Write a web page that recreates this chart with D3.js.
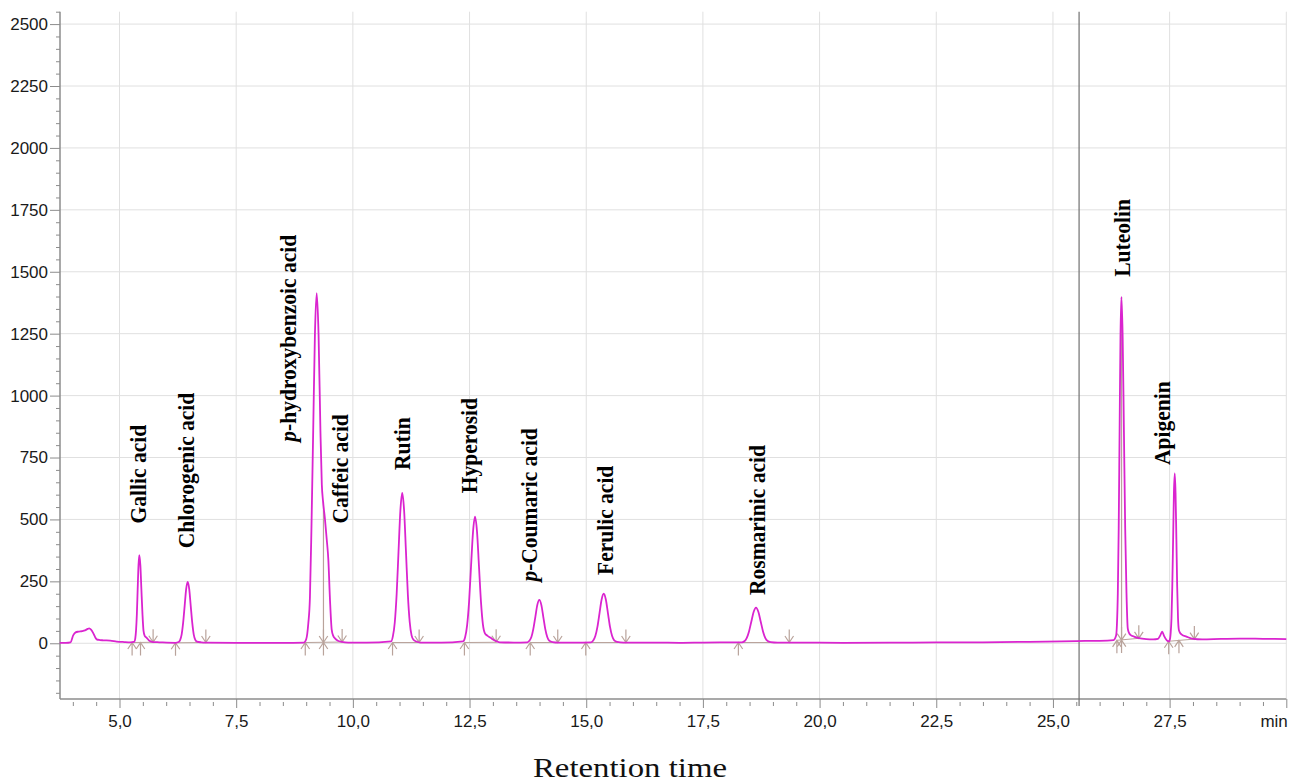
<!DOCTYPE html>
<html>
<head>
<meta charset="utf-8">
<script src="https://cdn.jsdelivr.net/npm/d3@7/dist/d3.min.js"></script>
<style>
  html, body { margin: 0; padding: 0; background: #ffffff; }
  svg { display: block; }
</style>
</head>
<body>
<svg id="chart" width="1290" height="784"></svg>
<script>
// ---------------- data ----------------
const times = [
  3.72, 3.85, 3.95, 4.01, 4.06, 4.12, 4.20, 4.26, 4.32, 4.35, 4.39, 4.44, 4.48, 4.51, 4.58, 4.65, 4.80, 4.94, 5.10, 5.23,
  5.32, 5.337, 5.354, 5.372, 5.389, 5.407, 5.424, 5.447, 5.469, 5.492, 5.514, 5.54, 5.583, 5.64, 5.72, 5.85,
  6.20, 6.266, 6.298, 6.331, 6.363, 6.396, 6.428, 6.461, 6.494, 6.526, 6.559, 6.591, 6.624, 6.66, 6.75, 6.85,
  7.50, 8.50, 8.95, 9.00, 9.045, 9.08, 9.112, 9.15, 9.187, 9.225, 9.265, 9.305, 9.335, 9.36, 9.40, 9.44, 9.475, 9.51,
  9.547, 9.58, 9.617, 9.68, 9.76, 9.90,
  10.30, 10.82, 10.858, 10.898, 10.938, 10.978, 11.018, 11.058, 11.098, 11.138, 11.178, 11.218, 11.258, 11.30, 11.36, 11.45,
  11.90, 12.362, 12.405, 12.447, 12.49, 12.532, 12.575, 12.617, 12.66, 12.702, 12.745, 12.787, 12.83, 12.88, 12.95, 13.05, 13.15,
  13.45, 13.74, 13.782, 13.825, 13.867, 13.91, 13.952, 13.995, 14.038, 14.08, 14.122, 14.165, 14.21, 14.28, 14.40,
  14.75, 15.105, 15.15, 15.195, 15.24, 15.285, 15.33, 15.375, 15.42, 15.465, 15.51, 15.555, 15.60, 15.66, 15.80,
  16.50, 17.00, 17.50, 18.338, 18.388, 18.438, 18.488, 18.538, 18.588, 18.638, 18.688, 18.738, 18.788, 18.838, 18.888, 18.95, 19.10,
  19.50, 20.50, 22.00, 23.50, 24.50, 25.50, 26.00, 26.30,
  26.352, 26.371, 26.39, 26.409, 26.428, 26.447, 26.466, 26.494, 26.521, 26.548, 26.576, 26.603, 26.63, 26.66, 26.75, 26.84,
  27.00, 27.15, 27.25, 27.30, 27.34, 27.38, 27.44, 27.48,
  27.50, 27.522, 27.54, 27.557, 27.575, 27.592, 27.61, 27.627, 27.645, 27.662, 27.68, 27.697, 27.715, 27.76, 27.86,
  28.00, 28.20, 28.60, 29.00, 29.50, 30.00
];
const signal = [
  2, 2, 4, 33, 44, 47, 49, 52, 58, 60, 55, 40, 24, 16, 13, 12, 11, 7, 5, 4,
  7, 19, 51, 118, 217, 315, 356, 315, 217, 118, 51, 30, 22, 10, 5, 4,
  2, 5, 13, 35, 82, 151, 219, 248, 219, 151, 82, 35, 14, 7, 4, 3,
  2, 2, 3, 16, 80, 185, 459, 858, 1247, 1414, 1247, 858, 640, 575, 505, 420, 336, 175,
  54, 30, 20, 10, 6, 3,
  3, 8, 29, 84, 198, 369, 536, 607, 536, 369, 198, 86, 32, 14, 7, 3,
  3, 8, 24, 71, 167, 311, 451, 511, 451, 311, 167, 75, 40, 31, 22, 10, 4,
  3, 4, 10, 25, 58, 107, 155, 175, 155, 107, 58, 25, 10, 5, 3,
  3, 4, 11, 29, 66, 122, 177, 200, 177, 122, 66, 29, 12, 6, 3,
  3, 2, 3, 4, 8, 21, 48, 88, 127, 144, 127, 88, 48, 21, 9, 5, 3,
  3, 2, 3, 4, 6, 9, 10, 13,
  30, 76, 202, 464, 854, 1235, 1398, 1235, 854, 464, 202, 60, 42, 34, 26, 21,
  17, 16, 18, 32, 47, 30, 12, 8,
  12, 40, 101, 229, 420, 607, 686, 607, 420, 229, 101, 55, 45, 35, 27,
  18, 16, 18, 19, 18, 17
];

const peakNames = ["Gallic acid", "Chlorogenic acid", "p-hydroxybenzoic acid", "Caffeic acid", "Rutin",
  "Hyperosid", "p-Coumaric acid", "Ferulic acid", "Rosmarinic acid", "Luteolin", "Apigenin"];
const peakTimes = [5.42, 6.46, 9.23, 9.37, 11.06, 12.62, 14.00, 15.38, 18.64, 26.47, 27.61];

// integration marks (start / end of each integrated peak)
const markerTimes  = [5.27, 5.45, 5.72, 6.20, 6.85, 8.98, 9.37, 9.77, 10.85, 11.42, 12.39, 13.07, 13.80, 14.39,
  14.99, 15.85, 18.26, 19.35, 26.37, 26.47, 26.84, 27.48, 27.70, 28.03];
const markerKinds  = ["up", "up", "down", "up", "down", "up", "both", "down", "up", "down", "up", "down", "up", "down",
  "up", "down", "up", "down", "up", "both", "down", "up", "up", "down"];
const markerLevels = [3, 3, 4, 2, 3, 3, 3, 5, 3, 3, 3, 4, 3, 3, 3, 3, 3, 3, 12, 13, 20, 8, 12, 17];
const intStart = [5.27, 6.20, 8.98, 10.85, 12.39, 13.80, 14.99, 18.26, 26.37, 27.48];
const intEnd   = [5.72, 6.85, 9.77, 11.42, 13.07, 14.39, 15.85, 19.35, 26.84, 28.03];
const dropTimes = [9.37, 26.47];
const dropTops  = [571, 1398];
const cursorTime = 25.56;

const xTickValues = [5, 7.5, 10, 12.5, 15, 17.5, 20, 22.5, 25, 27.5, 30];
const xTickLabels = ["5,0", "7,5", "10,0", "12,5", "15,0", "17,5", "20,0", "22,5", "25,0", "27,5", "min"];
const yTickValues = [0, 250, 500, 750, 1000, 1250, 1500, 1750, 2000, 2250, 2500];
const yTickLabels = ["0", "250", "500", "750", "1000", "1250", "1500", "1750", "2000", "2250", "2500"];
const axisTitle = "Retention time";

// ---------------- layout (not data) ----------------
const labelLayoutTime  = [5.568, 6.596, 8.782, 9.896, 11.225, 12.662, 13.947, 15.574, 18.831, 26.651, 27.508];
const labelLayoutValue = [484, 384, 814, 484, 700, 606, 249, 276, 195, 1480, 720];

const plotL = 60, plotR = 1286.3, plotT = 11.7, plotB = 699;
const xMin = 3.725, xMax = 30, yMin = -225, yMax = 2550;

const svg = d3.select("#chart");
const x = d3.scaleLinear().domain([xMin, xMax]).range([plotL, plotR]);
const y = d3.scaleLinear().domain([yMin, yMax]).range([plotB, plotT]);

const gridColor = "#e0e0e0";
const axisColor = "#8c8c8c";
const markColor = "#b9a39b";
const traceColor = "#da24cf";

// grid
const grid = svg.append("g");
grid.selectAll("line.h").data(yTickValues).join("line")
  .attr("x1", plotL).attr("x2", plotR)
  .attr("y1", d => y(d)).attr("y2", d => y(d))
  .attr("stroke", gridColor).attr("stroke-width", 1);
grid.selectAll("line.v").data(xTickValues).join("line")
  .attr("x1", d => x(d)).attr("x2", d => x(d))
  .attr("y1", plotT).attr("y2", plotB)
  .attr("stroke", gridColor).attr("stroke-width", 1);

// axes
const yMinor = d3.range(-200, 2551, 50).filter(v => v % 250 !== 0);
const xMinor = d3.range(4, 30, 0.5).filter(v => Math.abs(v / 2.5 - Math.round(v / 2.5)) > 1e-6);

const yAxis = svg.append("g").attr("transform", `translate(${plotL},0)`)
  .call(d3.axisLeft(y).tickValues(yTickValues).tickSize(10).tickSizeOuter(0).tickPadding(2)
    .tickFormat((d, i) => yTickLabels[i]));
const yAxisMinor = svg.append("g").attr("transform", `translate(${plotL},0)`)
  .call(d3.axisLeft(y).tickValues(yMinor).tickSize(4).tickSizeOuter(0).tickFormat(""));
yAxisMinor.select(".domain").remove();

const xAxis = svg.append("g").attr("transform", `translate(0,${plotB})`)
  .call(d3.axisBottom(x).tickValues(xTickValues).tickSize(9).tickSizeOuter(0).tickPadding(7)
    .tickFormat((d, i) => xTickLabels[i]));
const xAxisMinor = svg.append("g").attr("transform", `translate(0,${plotB + 3})`)
  .call(d3.axisBottom(x).tickValues(xMinor).tickSize(4).tickSizeOuter(0).tickFormat(""));
xAxisMinor.select(".domain").remove();

[yAxis, yAxisMinor, xAxis, xAxisMinor].forEach(g => {
  g.attr("font-family", "'Liberation Sans', Arial, sans-serif").attr("font-size", 17);
  g.selectAll("line").attr("stroke", axisColor).attr("stroke-width", 1);
  g.selectAll(".domain").attr("stroke", axisColor).attr("stroke-width", 1.5);
  g.selectAll("text").attr("fill", "#1a1a1a");
});
yAxis.select(".domain").attr("d", `M0,${plotB}V${plotT}`);
xAxis.select(".domain").attr("d", `M${plotL},0H${plotR}`);
xAxis.selectAll(".tick text").filter((d, i) => i === xTickValues.length - 1)
  .attr("text-anchor", "end").attr("x", 1);

// cursor line
svg.append("line")
  .attr("x1", x(cursorTime)).attr("x2", x(cursorTime))
  .attr("y1", plotT).attr("y2", plotB + 7)
  .attr("stroke", "#6f6f6f").attr("stroke-width", 1.2);

// integration baselines
const levelAt = t => markerLevels[markerTimes.indexOf(t)];
svg.append("g").selectAll("line").data(intStart).join("line")
  .attr("x1", d => x(d)).attr("x2", (d, i) => x(intEnd[i]))
  .attr("y1", d => y(levelAt(d))).attr("y2", (d, i) => y(levelAt(intEnd[i])))
  .attr("stroke", markColor).attr("stroke-width", 1);

// drop lines
svg.append("g").selectAll("line").data(dropTimes).join("line")
  .attr("x1", d => x(d)).attr("x2", d => x(d))
  .attr("y1", d => y(levelAt(d))).attr("y2", (d, i) => y(dropTops[i]))
  .attr("stroke", markColor).attr("stroke-width", 1.2);

// start / end arrows
const mk = svg.append("g").attr("fill", "none").attr("stroke", markColor).attr("stroke-width", 1.2);
markerTimes.forEach((t, i) => {
  const px = x(t), py = y(markerLevels[i]);
  const kind = markerKinds[i];
  if (kind === "up" || kind === "both") {
    mk.append("path").attr("d", `M${px},${py}V${py + 13}M${px - 4.3},${py + 6.5}L${px},${py}L${px + 4.3},${py + 6.5}`);
  }
  if (kind === "down" || kind === "both") {
    mk.append("path").attr("d", `M${px},${py}V${py - 13}M${px - 4.3},${py - 6.5}L${px},${py}L${px + 4.3},${py - 6.5}`);
  }
});

// trace
const pts = times.map((t, i) => [t, signal[i]]);
svg.append("path")
  .datum(pts)
  .attr("fill", "none")
  .attr("stroke", traceColor)
  .attr("stroke-width", 1.8)
  .attr("stroke-linejoin", "round")
  .attr("d", d3.line().x(d => x(d[0])).y(d => y(d[1])).curve(d3.curveMonotoneX));

// peak labels
const labels = svg.append("g")
  .attr("font-family", "'Liberation Serif', 'Times New Roman', serif")
  .attr("font-weight", "bold").attr("font-size", 21.5).attr("fill", "#000");
peakNames.forEach((name, i) => {
  const lx = x(labelLayoutTime[i]), ly = y(labelLayoutValue[i]);
  const t = labels.append("text")
    .attr("transform", `translate(${lx},${ly}) rotate(-90) scale(1,1.1)`)
    .attr("text-anchor", "start");
  if (name.startsWith("p-")) {
    t.append("tspan").attr("font-style", "italic").text("p");
    t.append("tspan").text(name.slice(1));
  } else {
    t.text(name);
  }
});

// axis title
svg.append("text")
  .attr("x", 630).attr("y", 777)
  .attr("text-anchor", "middle")
  .attr("font-family", "'Liberation Serif', 'Times New Roman', serif")
  .attr("font-size", 28)
  .attr("textLength", 194).attr("lengthAdjust", "spacingAndGlyphs")
  .attr("fill", "#111")
  .text(axisTitle);
</script>
</body>
</html>
